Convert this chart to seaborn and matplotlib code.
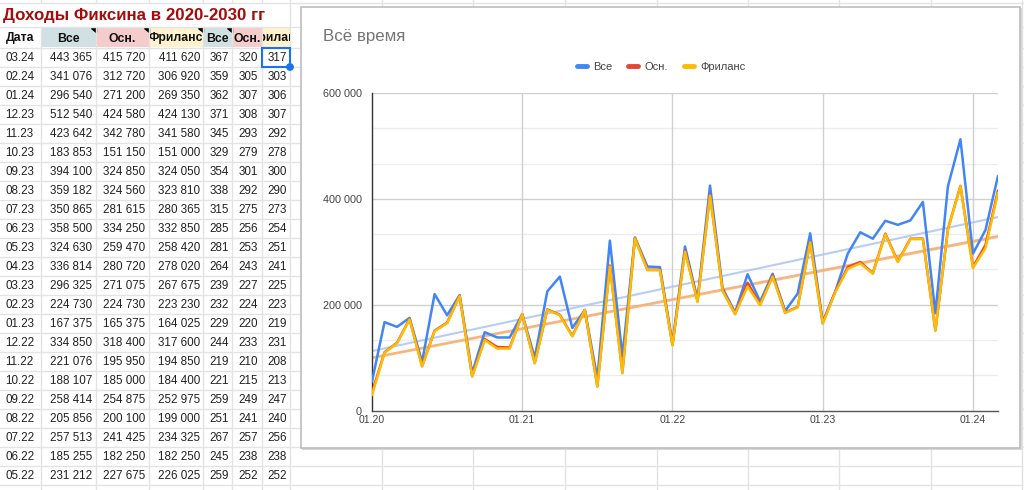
import numpy as np
import pandas as pd
import matplotlib
matplotlib.use("Agg")
import matplotlib.pyplot as plt
import seaborn as sns
from matplotlib.patches import Rectangle, Polygon, Circle
from matplotlib.lines import Line2D
from matplotlib.ticker import FuncFormatter, FixedLocator

# --- данные графика (01.20 - 03.24, по месяцам) ---
months = pd.date_range("2020-01-01", "2024-03-01", freq="MS").strftime("%m.%y").tolist()

vse = [55000, 167000, 158000, 175000, 92000, 220000, 180000, 218000, 71000, 148000,
       138000, 138000, 182000, 100000, 225000, 253000, 156000, 190000, 61000, 321000,
       102000, 327000, 272000, 271000, 127000, 310000, 210000, 425000,
       231212, 185255, 257513, 205856, 258414, 188107, 221076, 334850,
       167375, 224730, 296325, 336814, 324630, 358500, 350865, 359182,
       394100, 183853, 423642, 512540, 296540, 341076, 443365]
osn = [34000, 110000, 128000, 173000, 84000, 151000, 166000, 217000, 65000, 135000,
       120000, 119000, 182000, 90000, 191000, 181000, 141000, 190000, 46000, 274000,
       72000, 326000, 266000, 266000, 124000, 302000, 207000, 408000,
       227675, 182250, 241425, 200100, 254875, 185000, 195950, 318400,
       165375, 224730, 271075, 280720, 259470, 334250, 281615, 324560,
       324850, 151150, 342780, 424580, 271200, 312720, 415720]
frilans = [29000, 109000, 127000, 172000, 83000, 150000, 165000, 216000, 64000, 133000,
           117000, 117000, 182000, 89000, 190000, 180000, 140000, 190000, 45000, 272000,
           70000, 325000, 265000, 265000, 123000, 300000, 205000, 406000,
           226025, 182250, 234325, 199000, 252975, 184400, 194850, 317600,
           164025, 223230, 267675, 278020, 258420, 332850, 280365, 323810,
           324050, 151000, 341580, 424130, 269350, 306920, 411620]

# --- таблица слева (последние 23 месяца, сверху вниз) ---
tab_dates = ["03.24", "02.24", "01.24", "12.23", "11.23", "10.23", "09.23", "08.23",
             "07.23", "06.23", "05.23", "04.23", "03.23", "02.23", "01.23", "12.22",
             "11.22", "10.22", "09.22", "08.22", "07.22", "06.22", "05.22"]
avg_vse = [367, 359, 362, 371, 345, 329, 354, 338, 315, 285, 281, 264, 239, 232, 229,
           244, 219, 221, 259, 251, 267, 245, 259]
avg_osn = [320, 305, 307, 308, 293, 279, 301, 292, 275, 256, 253, 243, 227, 224, 220,
           233, 210, 215, 249, 241, 257, 238, 252]
avg_fri = [317, 303, 306, 307, 292, 278, 300, 290, 273, 254, 251, 241, 225, 223, 219,
           231, 208, 213, 247, 240, 256, 238, 252]

series_names = ["Все", "Осн.", "Фриланс"]
colors = {"Все": "#4285f4", "Осн.": "#ea4335", "Фриланс": "#fbbc04"}
trend_colors = {"Все": "#a9c5f7", "Осн.": "#f2a48c", "Фриланс": "#f7b76a"}

sns.set_theme(style="white")
plt.rcParams["font.family"] = ["Liberation Sans", "DejaVu Sans"]

W, H = 1024, 490
fig = plt.figure(figsize=(W / 100, H / 100), dpi=100)

# фон: сетка таблицы в пикселях
bg = fig.add_axes([0, 0, 1, 1])
bg.set_xlim(0, W)
bg.set_ylim(H, 0)
bg.axis("off")

grid_c = "#e2e3e3"
col_edges = [41, 96, 149, 203, 232, 262, 290, 382, 473, 565, 657, 748, 839, 931, 1022]
row_edges = [3, 27, 48] + [48 + 19 * k for k in range(1, 24)]
for x in col_edges:
    if x < 290:
        bg.plot([x, x], [0, 3], color=grid_c, lw=1)
        bg.plot([x, x], [27, H], color=grid_c, lw=1)
    else:
        bg.plot([x, x], [0, H], color=grid_c, lw=1)
for y in row_edges:
    bg.plot([0, W], [y, y], color=grid_c, lw=1)

bg.text(3, 15.5, "Доходы Фиксина в 2020-2030 гг", color="#a30d0d", fontsize=12.2,
        fontweight="bold", va="center", ha="left")

# шапка
header_cells = [(0, 41, "Дата", "white"), (41, 96, "Все", "#d0e0e3"),
                (96, 149, "Осн.", "#f4cccc"), (149, 203, "Фриланс", "#fff2cc"),
                (203, 232, "Все", "#d0e0e3"), (232, 262, "Осн.", "#f4cccc"),
                (262, 290, "Фриланс", "#fff2cc")]
for x0, x1, label, fc in header_cells:
    bg.add_patch(Rectangle((x0 + 0.5, 27.5), x1 - x0 - 1, 20, fc=fc, ec="none"))
    t = bg.text((x0 + x1) / 2, 38.5, label, fontsize=8.8, fontweight="bold",
                ha="center", va="center", color="#111", clip_on=True)
    t.set_clip_path(Rectangle((x0 + 0.5, 27), x1 - x0 - 1, 21, transform=bg.transData))
for xr in [96, 149, 203, 232]:
    bg.add_patch(Polygon([[xr - 5, 28], [xr - 0.5, 28], [xr - 0.5, 32.5]], color="black"))

# строки таблицы
num_fmt = lambda v: f"{v:,}".replace(",", " ")
cell_kw = dict(fontsize=8.4, va="center", color="#222")
for k, d in enumerate(tab_dates):
    yc = 57.8 + 19 * k
    idx = months.index(d)
    bg.text(5, yc, d, ha="left", **cell_kw)
    bg.text(92, yc, num_fmt(vse[idx]), ha="right", **cell_kw)
    bg.text(145, yc, num_fmt(osn[idx]), ha="right", **cell_kw)
    bg.text(200, yc, num_fmt(frilans[idx]), ha="right", **cell_kw)
    bg.text(229, yc, str(avg_vse[k]), ha="right", **cell_kw)
    bg.text(258, yc, str(avg_osn[k]), ha="right", **cell_kw)
    bg.text(287, yc, str(avg_fri[k]), ha="right", **cell_kw)

# выделенная ячейка
bg.add_patch(Rectangle((262, 48), 28, 19, fc="none", ec="#1a73e8", lw=1.5, zorder=5))
bg.add_patch(Circle((290, 67), 3.2, color="#1a73e8", zorder=6))

# рамка диаграммы
bg.add_patch(Rectangle((302, 8), 720, 442, fc="#d8d8d8", ec="none", zorder=7))
bg.add_patch(Rectangle((301, 7), 719, 441, fc="white", ec="#bdbdbd", lw=1.2, zorder=8))

fig.text(323 / W, 1 - 37 / H, "Всё время", fontsize=12.2, color="#757575",
         ha="left", va="center", zorder=20)

# --- сам график ---
ax = fig.add_axes([372 / W, 1 - 410.5 / H, 626 / W, 317.5 / H], zorder=10)
ax.patch.set_alpha(0)

df = pd.DataFrame({"month": months, "idx": np.arange(len(months)),
                   "Все": vse, "Осн.": osn, "Фриланс": frilans})
long = df.melt(id_vars=["month", "idx"], value_vars=series_names,
               var_name="series", value_name="value")

for name in series_names:
    sns.regplot(data=df, x="idx", y=name, ax=ax, scatter=False, ci=None,
                line_kws={"color": trend_colors[name], "lw": 1.5, "alpha": 0.85, "zorder": 2})

sns.lineplot(data=long, x="idx", y="value", hue="series", palette=colors,
             hue_order=series_names, linewidth=1.8, ax=ax, legend=False, zorder=3)

ax.set_xlim(0, len(months) - 1)
ax.set_ylim(0, 600000)
ax.set_xlabel("")
ax.set_ylabel("")

year_idx = [months.index(m) for m in ["01.20", "01.21", "01.22", "01.23", "01.24"]]
ax.set_xticks(year_idx)
ax.set_xticklabels([months[i] for i in year_idx])
ax.set_yticks([0, 200000, 400000, 600000])
ax.yaxis.set_major_formatter(FuncFormatter(lambda v, p: num_fmt(int(v))))
minor_y = [v for v in np.arange(0, 600001, 200000 / 3) if round(v) % 200000 != 0]
ax.yaxis.set_minor_locator(FixedLocator(minor_y))

for v in minor_y:
    ax.axhline(v, color="#ececec", lw=1, zorder=0)
for v in [200000, 400000, 600000]:
    ax.axhline(v, color="#d0d0d0", lw=1, zorder=0)
for i in year_idx[1:]:
    ax.axvline(i, color="#d0d0d0", lw=1, zorder=0)

ax.tick_params(axis="x", which="major", length=0, labelsize=7.6, colors="#444", pad=3)
ax.tick_params(axis="y", which="major", length=0, labelsize=7.8, colors="#444", pad=7.5)
ax.tick_params(axis="y", which="minor", length=4, width=0.8, direction="inout", color="#333")
for s in ["top", "right"]:
    ax.spines[s].set_visible(False)
ax.spines["left"].set_color("#333")
ax.spines["bottom"].set_color("#555")
ax.spines["left"].set_linewidth(1)
ax.spines["bottom"].set_linewidth(1)

handles = [Line2D([0], [0], color=colors[n], lw=3.5) for n in series_names]
fig.legend(handles, series_names, loc="center", bbox_to_anchor=(661 / W, 1 - 67 / H),
           ncol=3, frameon=False, fontsize=8, handlelength=0.9, handletextpad=0.6,
           columnspacing=1.4, labelcolor="#444")

fig.savefig("out.png", dpi=100)
